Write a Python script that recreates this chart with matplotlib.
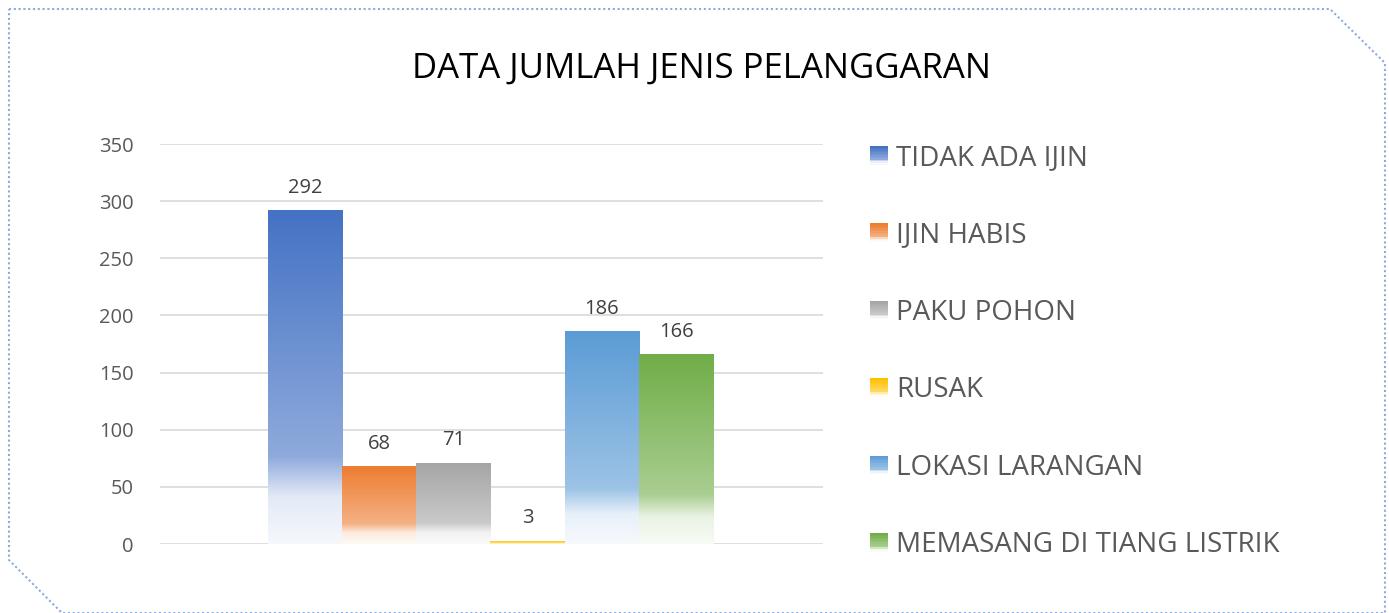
import numpy as np
import matplotlib
matplotlib.use("Agg")
import matplotlib.pyplot as plt
from matplotlib.colors import to_rgb
from matplotlib.patches import Rectangle
from matplotlib.lines import Line2D
from matplotlib.legend_handler import HandlerBase

title = "DATA JUMLAH JENIS PELANGGARAN"
categories = ["TIDAK ADA IJIN", "IJIN HABIS", "PAKU POHON", "RUSAK",
              "LOKASI LARANGAN", "MEMASANG DI TIANG LISTRIK"]
values = [292, 68, 71, 3, 186, 166]
colors = ["#4472C4", "#ED7D31", "#A5A5A5", "#FFC000", "#5B9BD5", "#70AD47"]
yticks = [0, 50, 100, 150, 200, 250, 300, 350]

plt.rcParams['font.family'] = ['Open Sans', 'DejaVu Sans']

# gradient stops: (position from top, white fraction)
STOPS = [(0.0, 0.0), (0.74, 0.40), (0.86, 0.85), (1.0, 0.95)]


def grad_colors(c, n=200):
    rgb = np.array(to_rgb(c))
    t = np.linspace(0, 1, n)
    w = np.interp(t, [s[0] for s in STOPS], [s[1] for s in STOPS])
    return rgb[None, :] * (1 - w[:, None]) + w[:, None]


W, H = 1389, 613
fig = plt.figure(figsize=(W / 100, H / 100), dpi=100)
ax = fig.add_axes([160 / W, 1 - 544 / H, (823 - 160) / W, (544 - 144) / H])

x = np.arange(len(values))
bars = ax.bar(x, values, width=1.0, color=colors, zorder=2)
for b, c in zip(bars, colors):
    b.set_alpha(0)
    x0, y0 = b.get_x(), b.get_y()
    w, h = b.get_width(), b.get_height()
    g = grad_colors(c)[:, None, :]
    im = ax.imshow(g, extent=[x0, x0 + w, y0, y0 + h], aspect='auto',
                   origin='upper', zorder=3, interpolation='bilinear')
    im.set_clip_path(b)

for xi, v in zip(x, values):
    ax.annotate(str(v), (xi, v), xytext=(0, 9), textcoords='offset points',
                ha='center', va='bottom', fontsize=14.5, color='#404040')

ax.set_xlim(-1.95, 6.98)
ax.set_ylim(0, 350)
ax.set_yticks(yticks)
ax.set_xticks([])
ax.tick_params(axis='y', length=0, pad=19, labelsize=14.5, labelcolor='#595959')
ax.grid(axis='y', color='#D9D9D9', linewidth=1.2, zorder=0)
ax.set_axisbelow(True)
for s in ax.spines.values():
    s.set_visible(False)

fig.text(701 / W, 1 - 69 / H, title, ha='center', va='center',
         fontsize=25, color='#000000')


class GradHandler(HandlerBase):
    def create_artists(self, legend, orig_handle, xdescent, ydescent,
                       width, height, fontsize, trans):
        n = 12
        cols = grad_colors(orig_handle.get_facecolor(), n)
        side = height * 1.0
        arts = []
        for i in range(n):
            r = Rectangle((-xdescent + (width - side), -ydescent + side * (1 - (i + 1) / n)),
                          side, side / n, facecolor=cols[i], edgecolor='none',
                          transform=trans)
            arts.append(r)
        return arts


handles = [Rectangle((0, 0), 1, 1, facecolor=c) for c in colors]
leg = fig.legend(handles, categories, handler_map={Rectangle: GradHandler()},
                 loc='upper left', bbox_to_anchor=(870 / W, 1 - 144 / H),
                 frameon=False, fontsize=20, labelcolor='#595959',
                 handlelength=0.65, handleheight=0.65, handletextpad=0.3,
                 labelspacing=1.78, borderaxespad=0, borderpad=0)

# dotted outer border
pts = [(9, 9), (1330, 9), (1385, 63), (1385, 613), (62, 613), (9, 560), (9, 9)]
bx = [p[0] / W for p in pts]
by = [1 - p[1] / H for p in pts]
fig.add_artist(Line2D(bx, by, transform=fig.transFigure, color='#8EA9DB',
                      linewidth=1.5, linestyle=(0, (1, 1.3))))

fig.savefig("out.png", dpi=100)
